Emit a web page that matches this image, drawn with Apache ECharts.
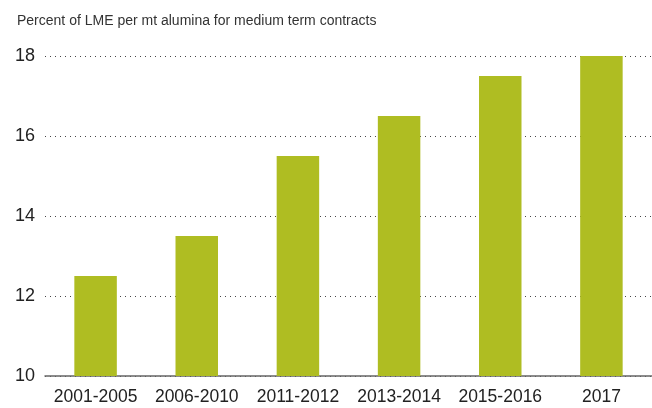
<!DOCTYPE html>
<html>
<head>
<meta charset="utf-8">
<script src="https://cdn.jsdelivr.net/npm/echarts@6/dist/echarts.min.js"></script>
<style>
    html, body { margin: 0; padding: 0; background: #fff; }
    #chart { width: 652px; height: 408px; }
</style>
</head>
<body>
<div id="chart"></div>
<script>
let periods = ['2001-2005', '2006-2010', '2011-2012', '2013-2014', '2015-2016', '2017'];
let percentValues = [12.5, 13.5, 15.5, 16.5, 17.5, 18];

let myChart = echarts.init(document.getElementById('chart'));
let option = {
    backgroundColor: '#fff',
    title: {
        text: 'Percent of LME per mt alumina for medium term contracts',
        left: 12,
        top: 9,
        textStyle: {
            fontFamily: 'Liberation Sans, Arial, sans-serif',
            fontSize: 14,
            fontWeight: 'normal',
            color: '#333'
        }
    },
    grid: {
        top: 56,
        left: 45,
        right: 0,
        bottom: 32,
        containLabel: false
    },
    xAxis: {
        type: 'category',
        data: periods,
        axisTick: {show: false},
        axisLine: {lineStyle: {color: '#666', width: 1.5}},
        axisLabel: {
            interval: 0,
            margin: 12,
            fontFamily: 'Liberation Sans, Arial, sans-serif',
            fontSize: 17.5,
            color: '#222'
        }
    },
    yAxis: {
        type: 'value',
        min: 10,
        max: 18,
        interval: 2,
        axisLine: {show: false},
        axisTick: {show: false},
        axisLabel: {
            margin: 10,
            fontFamily: 'Liberation Sans, Arial, sans-serif',
            fontSize: 18,
            color: '#222'
        },
        splitLine: {
            lineStyle: {color: '#444', type: [1, 4], width: 1}
        }
    },
    series: [{
        type: 'bar',
        data: percentValues,
        barWidth: '42%',
        itemStyle: {color: '#afbd22'}
    }]
};
myChart.setOption(option);
</script>
</body>
</html>
